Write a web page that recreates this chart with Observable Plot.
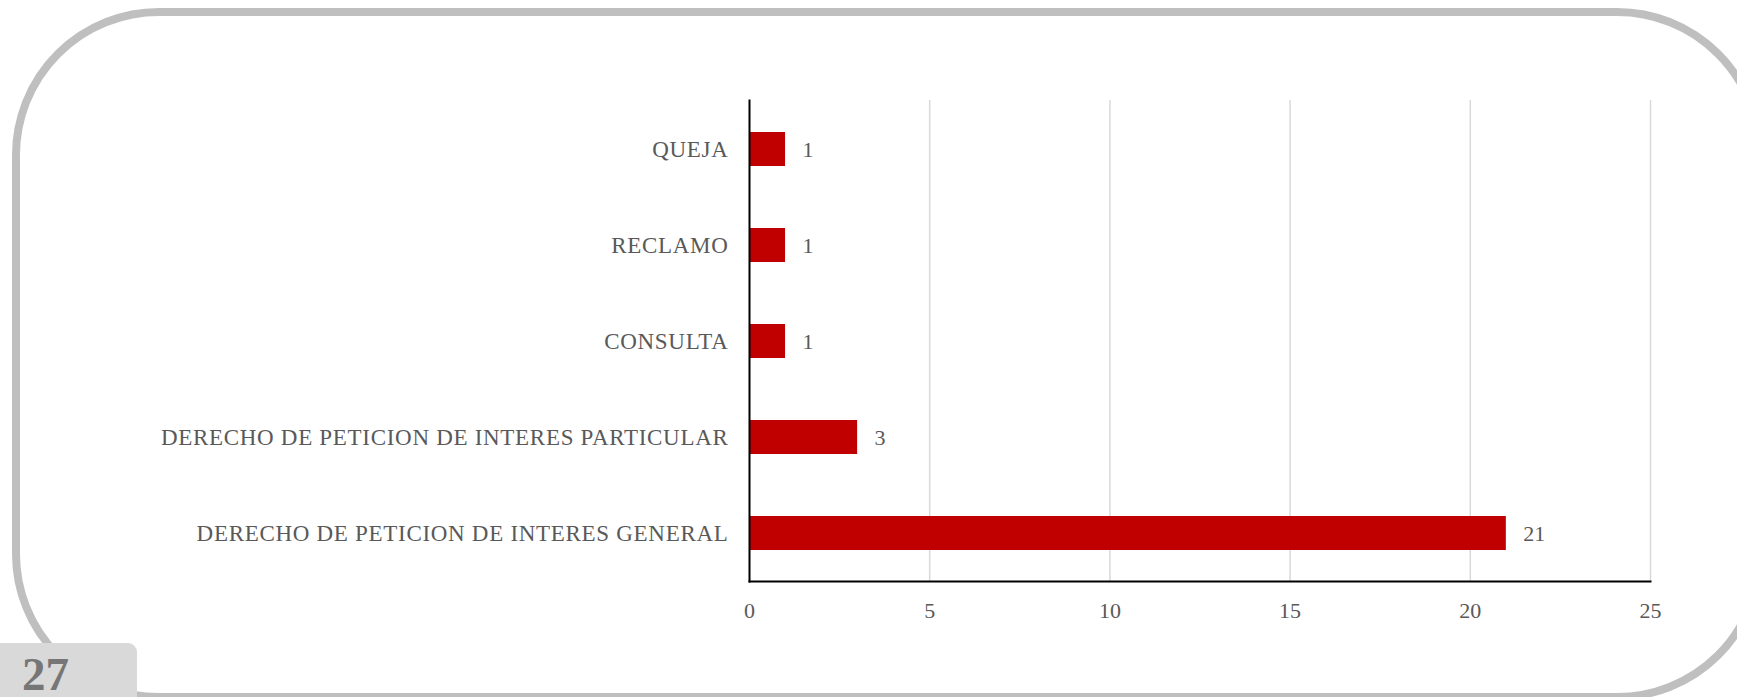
<!DOCTYPE html>
<html>
<head>
<meta charset="utf-8">
<script src="https://cdn.jsdelivr.net/npm/d3@7"></script>
<script src="https://cdn.jsdelivr.net/npm/@observablehq/plot@0.6"></script>
<style>
  html, body { margin: 0; padding: 0; background: #ffffff; overflow: hidden; }
  body { width: 1737px; height: 697px; position: relative; }
  #frame {
    position: absolute; left: 12px; top: 8px;
    width: 1736px; height: 677px;
    border: 8px solid #bfbfbf; border-radius: 147px;
    box-sizing: content-box;
  }
  #page {
    position: absolute; left: 0; top: 643px; width: 137px; height: 60px;
    background: #d9d9d9; border-top-right-radius: 9px;
    font-family: "Liberation Serif", "DejaVu Serif", serif;
    font-weight: bold; font-size: 47px; color: #767676;
    line-height: 1;
  }
  #page span { position: absolute; left: 22px; top: 8px; }
  #chart { position: absolute; left: 0; top: 0; }
  .yax text { letter-spacing: 0.7px; }
</style>
</head>
<body>
<div id="frame"></div>
<div id="page"><span>27</span></div>
<div id="chart"></div>
<script>
const categories = [
  "QUEJA",
  "RECLAMO",
  "CONSULTA",
  "DERECHO DE PETICION DE INTERES PARTICULAR",
  "DERECHO DE PETICION DE INTERES GENERAL"
];
const values = [1, 1, 1, 3, 21];
const xTicks = [0, 5, 10, 15, 20, 25];

const data = categories.map((c, i) => ({category: c, value: values[i]}));

const chart = Plot.plot({
  width: 1737,
  height: 697,
  marginLeft: 749,
  marginRight: 87,
  marginTop: 100,
  marginBottom: 116,
  style: {
    fontFamily: "'Liberation Serif', 'DejaVu Serif', serif",
    fontSize: "22px",
    color: "#595959",
    background: "transparent",
    overflow: "visible"
  },
  x: {domain: [0, 25]},
  y: {domain: categories, padding: 0},
  marks: [
    Plot.ruleX(xTicks.filter(d => d > 0), {stroke: "#d9d9d9", strokeWidth: 1.5}),
    Plot.barX(data, {y: "category", x: "value", fill: "#C00000", insetTop: 31, insetBottom: 31}),
    Plot.text(data, {y: "category", x: "value", text: d => String(d.value), textAnchor: "start", dx: 17, fill: "#595959", fontSize: 22}),
    Plot.axisX({ticks: xTicks, tickSize: 0, tickPadding: 21, tickFormat: d => String(d), fontSize: 22, fill: "#595959", label: null}),
    Plot.axisY({tickSize: 0, tickPadding: 21, fontSize: 23, fill: "#595959", label: null, className: "yax"}),
    Plot.frame({anchor: "bottom", stroke: "#000000", strokeWidth: 2}),
    Plot.frame({anchor: "left", stroke: "#000000", strokeWidth: 2})
  ]
});
document.getElementById("chart").appendChild(chart);
</script>
</body>
</html>
